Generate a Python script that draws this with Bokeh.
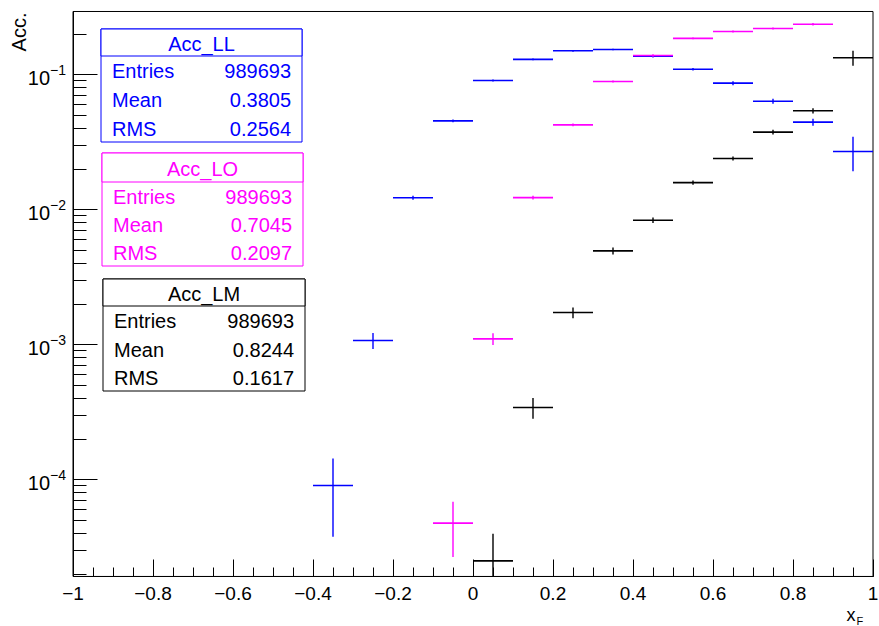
import numpy as np
from bokeh.plotting import figure
from bokeh.models import (Range1d, FixedTicker, CustomJSTickFormatter, LogTickFormatter,
                          Label, BoxAnnotation, ColumnDataSource, LinearAxis, LogAxis, Grid)
from bokeh.embed import file_html
from bokeh.resources import INLINE

# ---- binning: 20 bins of x_F from -1 to 1 ----
bin_edges = np.round(np.linspace(-1.0, 1.0, 21), 2)

# ---- acceptance per x_F bin (0 = empty bin, not drawn) ----
acc_ll = [0, 0, 0, 0, 0, 0, 9.08e-5, 1.077e-3, 0.01228, 0.0456,
          0.0908, 0.130, 0.1506, 0.154, 0.1374, 0.110, 0.0867, 0.0637, 0.0446, 0.0270]
err_ll = [0, 0, 0, 0, 0, 0, 5.3e-5, 1.45e-4, 4.3e-4, 1.1e-3,
          1.5e-3, 2.0e-3, 2.3e-3, 2.0e-3, 3.0e-3, 2.5e-3, 3.0e-3, 2.7e-3, 2.6e-3, 7.7e-3]

acc_lo = [0, 0, 0, 0, 0, 0, 0, 0, 0, 4.78e-5,
          1.107e-3, 0.0123, 0.0426, 0.0892, 0.139, 0.186, 0.2095, 0.2205, 0.237, 0]
err_lo = [0, 0, 0, 0, 0, 0, 0, 0, 0, 2.1e-5,
          1.1e-4, 4.0e-4, 1.0e-3, 1.5e-3, 3.0e-3, 3.0e-3, 3.5e-3, 4.0e-3, 5.0e-3, 0]

acc_lm = [0, 0, 0, 0, 0, 0, 0, 0, 0, 0,
          2.51e-5, 3.43e-4, 1.733e-3, 4.96e-3, 8.37e-3, 0.0159, 0.0240, 0.0376, 0.0541, 0.1337]
err_lm = [0, 0, 0, 0, 0, 0, 0, 0, 0, 0,
          1.47e-5, 6.0e-5, 1.6e-4, 3.0e-4, 4.0e-4, 6.0e-4, 8.0e-4, 1.5e-3, 2.5e-3, 0.017]

# ---- statistics boxes ----
hist_names = ["Acc_LL", "Acc_LO", "Acc_LM"]
hist_colors = ["#0000ff", "#ff00ff", "#000000"]
stat_labels = ["Entries", "Mean", "RMS"]
stat_entries = ["989693", "989693", "989693"]
stat_means = ["0.3805", "0.7045", "0.8244"]
stat_rms = ["0.2564", "0.2097", "0.1617"]

# axis titles
y_title = "Acc."
x_title = "x"
x_title_sub = "F"

FONT = "Liberation Sans"
W, H = 879, 626

# axis limits
X_MIN, X_MAX = -1.0, 1.0
Y_MIN, Y_MAX = 1.923e-5, 0.2944

# page geometry of the axes box: x=-1 and x=1 sit at these pixel columns,
# and one decade of the log axis spans DEC_PX pixels with 1e-1 at Y_DEC1_PX
X_LEFT_PX, X_RIGHT_PX = 72.5, 872.5
DEC_PX, Y_DEC1_PX = 135.0, 74.3

# the canvas is the whole frame; ranges are widened so the axes box lands
# at the pixel geometry above and the axes are pinned to its edges
ppu = (X_RIGHT_PX - X_LEFT_PX) / (X_MAX - X_MIN)
x_lo = X_MIN - X_LEFT_PX / ppu
x_hi = X_MIN + (W - X_LEFT_PX) / ppu
y_lo = 10 ** (-1 - (H - Y_DEC1_PX) / DEC_PX)
y_hi = 10 ** (-1 + Y_DEC1_PX / DEC_PX)

p = figure(width=W, height=H, output_backend="svg", toolbar_location=None,
           y_axis_type="log", x_axis_location=None, y_axis_location=None,
           x_range=Range1d(x_lo, x_hi), y_range=Range1d(y_lo, y_hi),
           min_border=0)
p.background_fill_color = "white"
p.border_fill_color = "white"
p.outline_line_color = None
p.center = [c for c in p.center if not isinstance(c, Grid)]

# x axis
xaxis = LinearAxis(fixed_location=Y_MIN, bounds=(X_MIN, X_MAX))
xaxis.ticker = FixedTicker(ticks=list(np.round(np.arange(-1.0, 1.01, 0.2), 1)),
                           minor_ticks=list(np.round(np.arange(-1.0, 1.001, 0.05), 2)))
xaxis.formatter = CustomJSTickFormatter(code="""
    const v = Math.round(tick * 10) / 10;
    if (Math.abs(v) < 1e-9) return "0";
    return String(v).replace("-", "\\u2212");
""")
xaxis.major_tick_in = 17
xaxis.major_tick_out = 0
xaxis.minor_tick_in = 9
xaxis.minor_tick_out = 0
xaxis.major_label_standoff = 11
xaxis.major_label_text_font_size = "19px"

# y axis (log): decades as major ticks, 2..9 as minor ticks, all inside the box
y_major = [10.0 ** n for n in range(-6, 1) if Y_MIN <= 10.0 ** n <= Y_MAX]
y_minor = [k * 10.0 ** n for n in range(-6, 0) for k in range(2, 10)
           if Y_MIN <= k * 10.0 ** n <= Y_MAX]
yaxis = LogAxis(fixed_location=X_MIN, bounds=(Y_MIN, Y_MAX))
yaxis.ticker = FixedTicker(ticks=y_major, minor_ticks=y_minor)
yaxis.formatter = LogTickFormatter()
yaxis.major_tick_in = 24
yaxis.major_tick_out = 0
yaxis.minor_tick_in = 13
yaxis.minor_tick_out = 0
yaxis.major_label_standoff = 7
yaxis.major_label_text_font_size = "20px"

for ax in (xaxis, yaxis):
    ax.major_label_text_font = FONT
    ax.major_label_text_color = "black"
    ax.axis_line_color = "black"
    ax.major_tick_line_color = "black"
    ax.minor_tick_line_color = "black"
p.add_layout(xaxis, "below")
p.add_layout(yaxis, "left")

# top and right edges of the axes box
p.add_layout(BoxAnnotation(left=X_MIN, right=X_MAX, bottom=Y_MIN, top=Y_MAX,
                           fill_alpha=0.0, line_color="black", line_alpha=1.0,
                           line_width=1, level="underlay"))

# ---- histograms drawn as error crosses ----
centers = 0.5 * (bin_edges[:-1] + bin_edges[1:])
lefts, rights = bin_edges[:-1], bin_edges[1:]


def draw_hist(vals, errs, color):
    v = np.asarray(vals, dtype=float)
    e = np.asarray(errs, dtype=float)
    m = v > 0
    # error bars are cut at the edges of the axes box
    src = ColumnDataSource(dict(x0=lefts[m], x1=rights[m], xc=centers[m], y=v[m],
                                lo=np.maximum(v[m] - e[m], Y_MIN),
                                hi=np.minimum(v[m] + e[m], Y_MAX)))
    p.segment(x0="x0", y0="y", x1="x1", y1="y", source=src, line_color=color, line_width=1.6)
    p.segment(x0="xc", y0="lo", x1="xc", y1="hi", source=src, line_color=color, line_width=1.4)


draw_hist(acc_ll, err_ll, hist_colors[0])
draw_hist(acc_lo, err_lo, hist_colors[1])
draw_hist(acc_lm, err_lm, hist_colors[2])


# ---- helpers: page pixel (from top-left) -> screen units of the frame ----
def sx(px):
    return px


def sy(py):
    return H - py


# stats boxes: (left, right, top, title divider, bottom) in page pixels
box_geom = [(100.5, 301.5, 28.5, 55.5, 141.5),
            (101.5, 302.5, 152.5, 181.5, 265.5),
            (102.5, 304.5, 278.5, 305.5, 390.5)]

for i, (l, r, t, d, b) in enumerate(box_geom):
    col = hist_colors[i]
    for bot in (b, d):
        p.add_layout(BoxAnnotation(left=sx(l), right=sx(r), top=sy(t), bottom=sy(bot),
                                   left_units="screen", right_units="screen",
                                   top_units="screen", bottom_units="screen",
                                   fill_color="white", fill_alpha=1.0,
                                   line_color=col, line_alpha=1.0, line_width=1,
                                   level="overlay"))
    p.add_layout(Label(x=sx((l + r) / 2), y=sy((t + d) / 2 + 1), x_units="screen", y_units="screen",
                       text=hist_names[i], text_align="center", text_baseline="middle",
                       text_font=FONT, text_font_size="20px", text_color=col, level="overlay"))
    row_h = (b - d) / 3.0
    vals = [stat_entries[i], stat_means[i], stat_rms[i]]
    for j in range(3):
        yc = d + row_h * (j + 0.5) + 1
        p.add_layout(Label(x=sx(l + 11), y=sy(yc), x_units="screen", y_units="screen",
                           text=stat_labels[j], text_align="left", text_baseline="middle",
                           text_font=FONT, text_font_size="20px", text_color=col, level="overlay"))
        p.add_layout(Label(x=sx(r - 11), y=sy(yc), x_units="screen", y_units="screen",
                           text=vals[j], text_align="right", text_baseline="middle",
                           text_font=FONT, text_font_size="20px", text_color=col, level="overlay"))

# axis titles
p.add_layout(Label(x=sx(18), y=sy(12), x_units="screen", y_units="screen", angle=np.pi / 2,
                   text=y_title, text_align="right", text_baseline="alphabetic",
                   text_font=FONT, text_font_size="20px", text_color="black"))
p.add_layout(Label(x=sx(846), y=sy(614), x_units="screen", y_units="screen",
                   text=x_title, text_align="left", text_baseline="alphabetic",
                   text_font=FONT, text_font_size="18px", text_color="black"))
p.add_layout(Label(x=sx(856), y=sy(620), x_units="screen", y_units="screen",
                   text=x_title_sub, text_align="left", text_baseline="alphabetic",
                   text_font=FONT, text_font_size="11px", text_color="black"))

open("out.html", "w").write(file_html(p, INLINE))
